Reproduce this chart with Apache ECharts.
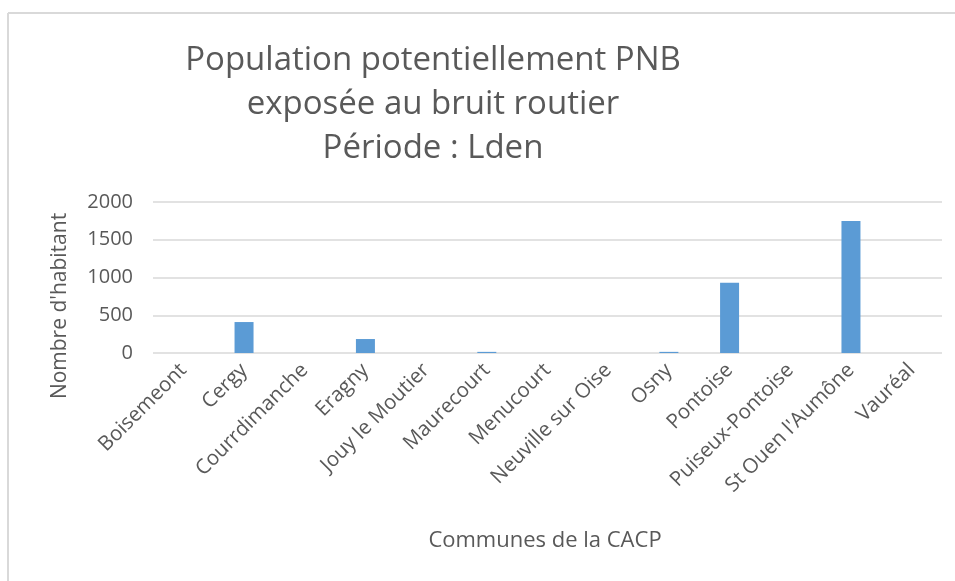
<!DOCTYPE html>
<html>
<head>
<meta charset="utf-8">
<script src="https://cdn.jsdelivr.net/npm/echarts@6/dist/echarts.min.js"></script>
<style>html,body{margin:0;padding:0;background:#fff}#c{width:955px;height:581px}</style>
</head>
<body>
<div id="c"></div>
<script>
const titleLines = ["Population potentiellement PNB", "exposée au bruit routier", "Période : Lden"];
const categories = ["Boisemeont", "Cergy", "Courrdimanche", "Eragny", "Jouy le Moutier", "Maurecourt", "Menucourt", "Neuville sur Oise", "Osny", "Pontoise", "Puiseux-Pontoise", "St Ouen l'Aumône", "Vauréal"];
const values = [0, 410, 0, 185, 0, 15, 0, 0, 15, 930, 0, 1750, 0];
const yTicks = [0, 500, 1000, 1500, 2000];
const yAxisName = "Nombre d'habitant";
const xAxisName = "Communes de la CACP";

const FONT = "Open Sans";
const chart = echarts.init(document.getElementById('c'), null, {renderer: 'canvas'});
chart.setOption({
  animation: false,
  backgroundColor: '#fff',
  title: {
    text: titleLines.join('\n'),
    left: 428, top: 34, textAlign: 'center',
    textStyle: {fontFamily: FONT, fontSize: 33, fontWeight: 'normal', color: '#595959', lineHeight: 44}
  },
  grid: {left: 153, right: 13, top: 202, bottom: 228, containLabel: false},
  xAxis: {
    type: 'category', data: categories,
    axisLine: {show: false}, axisTick: {show: false},
    axisLabel: {rotate: 45, interval: 0, fontFamily: FONT, fontSize: 20.5, color: '#595959', margin: 14}
  },
  yAxis: {
    type: 'value', min: yTicks[0], max: yTicks[yTicks.length-1], interval: 500,
    axisLine: {show: false}, axisTick: {show: false},
    splitLine: {lineStyle: {color: '#d9d9d9', width: 1.5}},
    axisLabel: {fontFamily: FONT, fontSize: 20, color: '#595959', margin: 20, formatter: v => String(v)}
  },
  series: [{
    type: 'bar', data: values, barWidth: 19,
    itemStyle: {color: '#5b9bd5'}
  }],
  graphic: [
    {type: 'line', shape: {x1: 8, y1: 13, x2: 955, y2: 13}, style: {stroke: '#d9d9d9', lineWidth: 2}},
    {type: 'line', shape: {x1: 8, y1: 13, x2: 8, y2: 581}, style: {stroke: '#d9d9d9', lineWidth: 2}},
    {type: 'text', x: 60, y: 306, rotation: Math.PI/2,
     style: {text: yAxisName, fontFamily: FONT, fontSize: 21, fill: '#595959', align: 'center', verticalAlign: 'middle'}},
    {type: 'text', x: 545, y: 541,
     style: {text: xAxisName, fontFamily: FONT, fontSize: 22, fill: '#595959', align: 'center', verticalAlign: 'middle'}}
  ]
});
</script>
</body>
</html>
